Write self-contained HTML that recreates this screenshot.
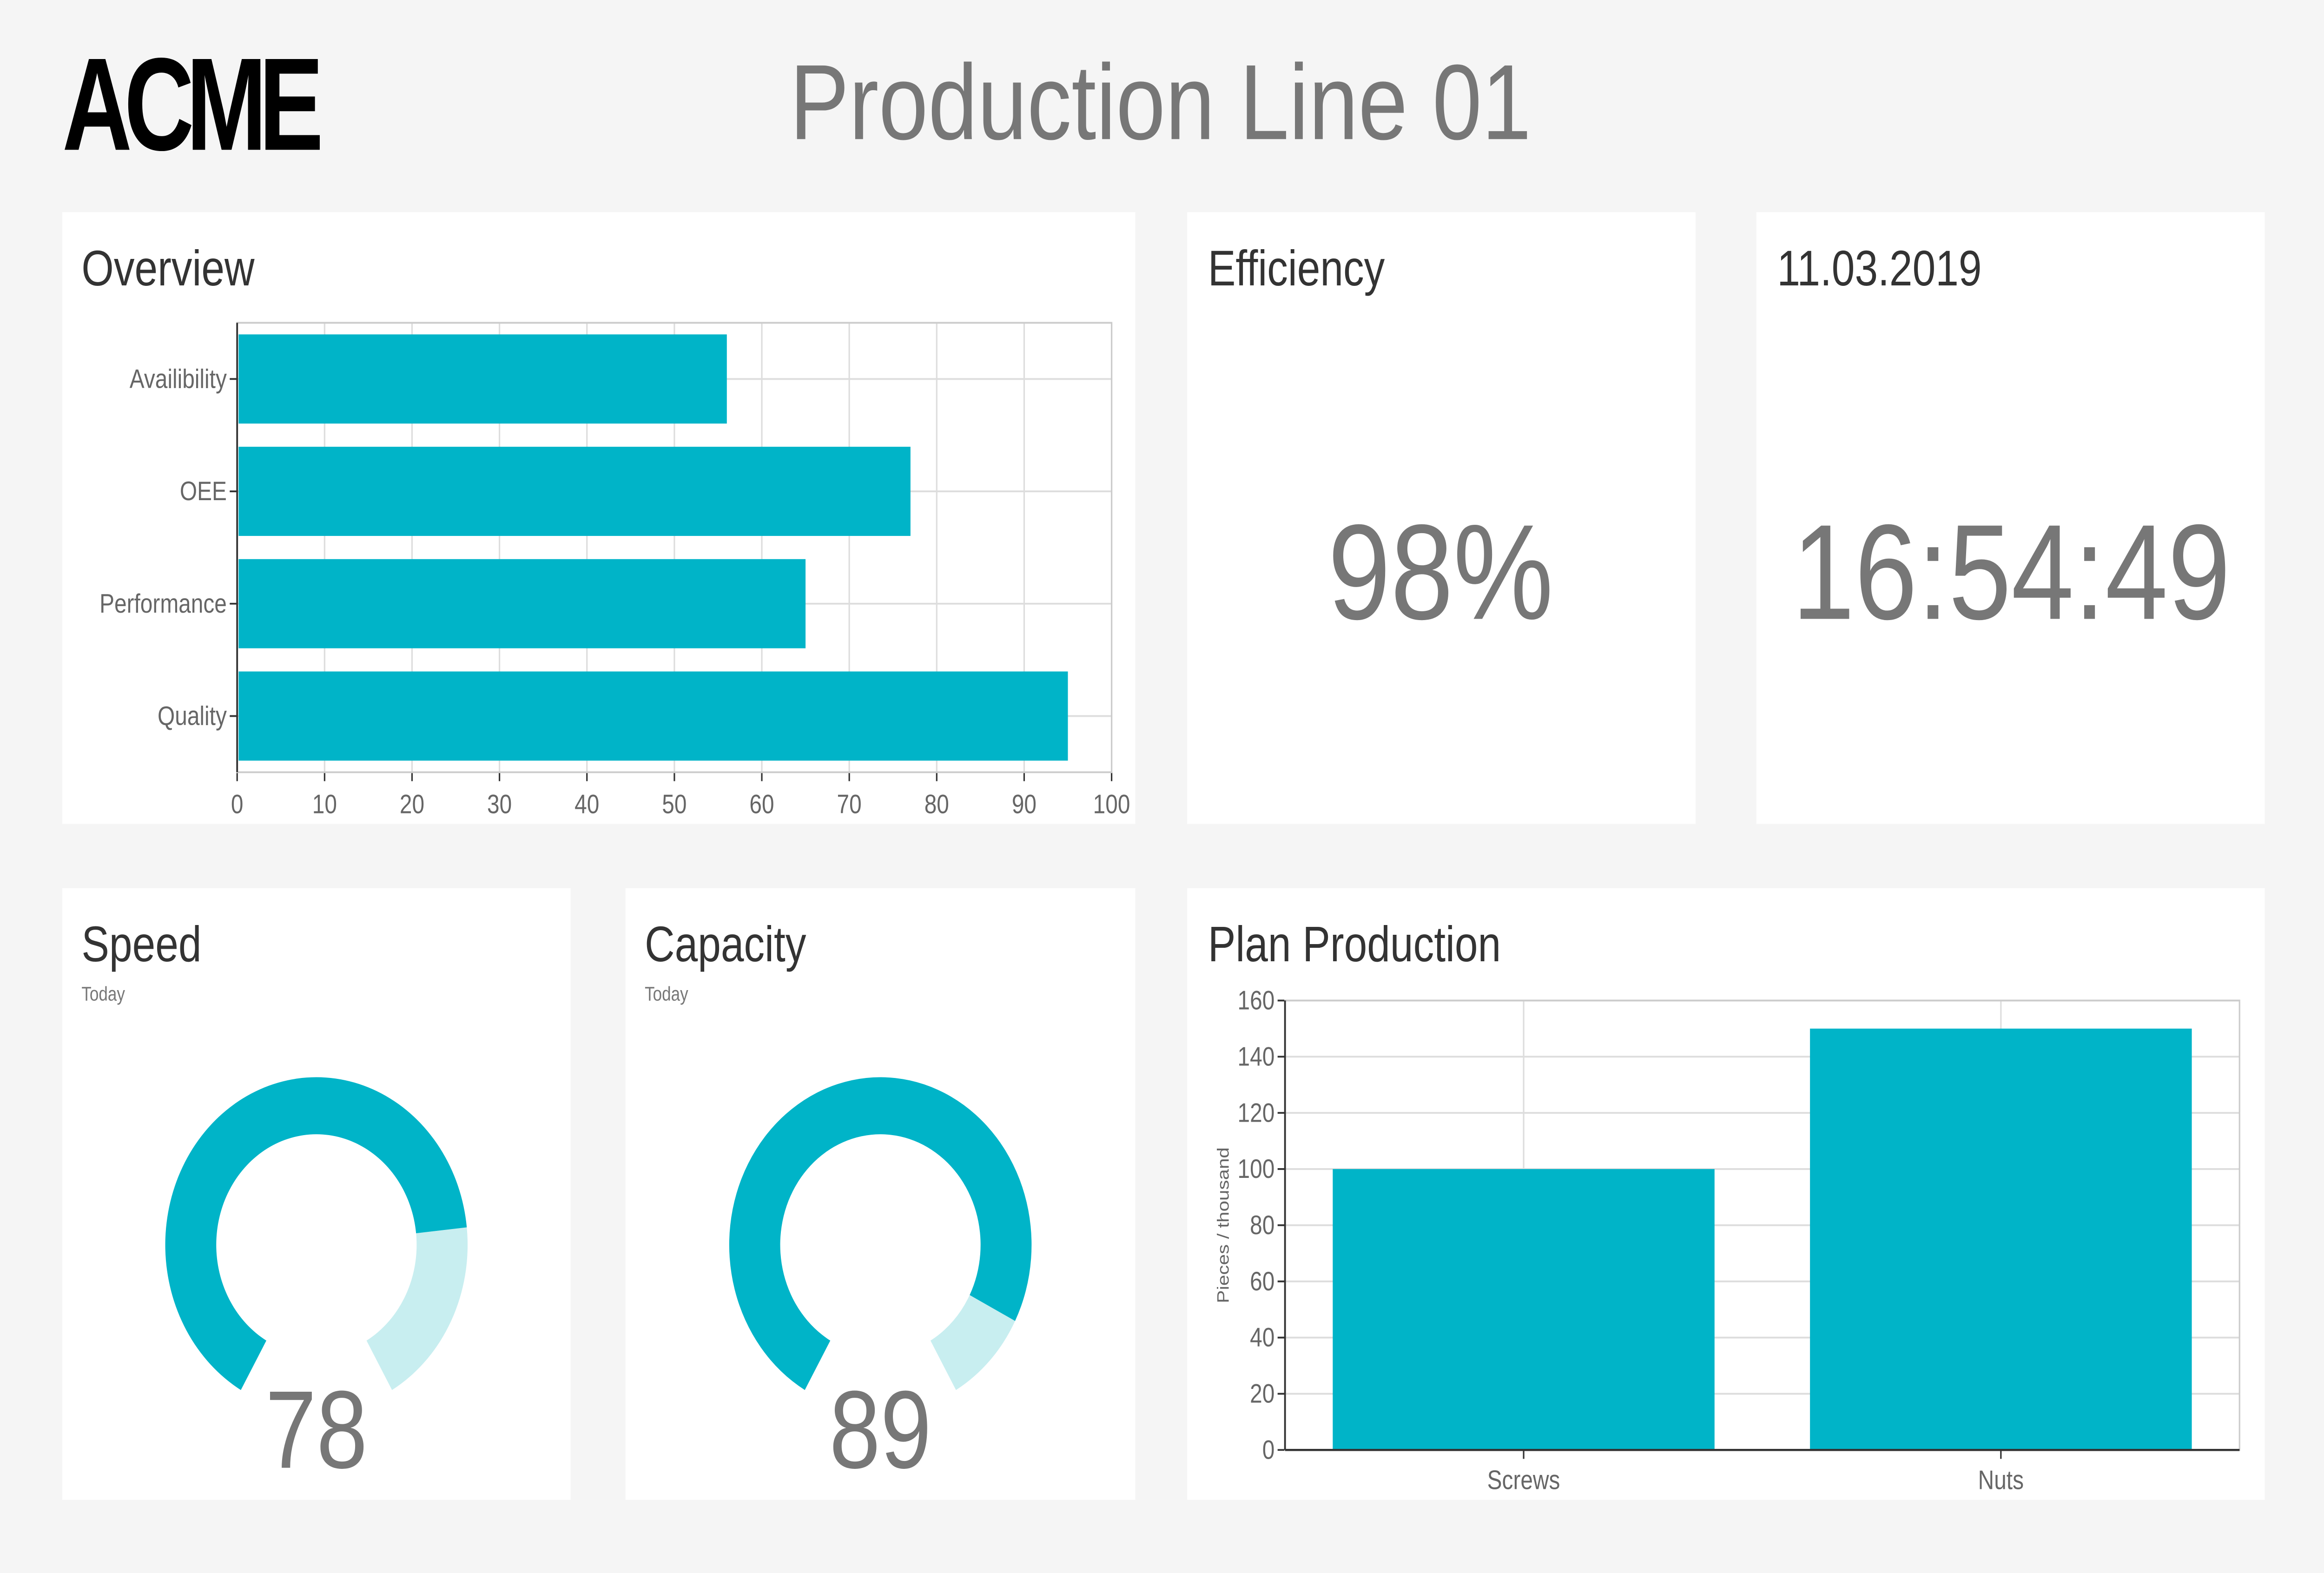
<!DOCTYPE html>
<html><head><meta charset="utf-8"><style>
html,body{margin:0;padding:0;background:#f5f5f5;width:100vw;height:100vh;overflow:hidden;}
svg{display:block;width:100vw;height:100vh;font-family:"Liberation Sans",sans-serif;}
</style></head><body>
<svg id="svg" viewBox="0 0 1568 882" preserveAspectRatio="none">
<rect x="0" y="0" width="1568" height="882" fill="#f5f5f5"/>
<g>
<text x="42" y="84" font-size="74" font-weight="bold" fill="#000" textLength="171" lengthAdjust="spacingAndGlyphs" style="letter-spacing:-6px">ACME</text>
</g>
<text x="783" y="78" text-anchor="middle" font-size="60" fill="#777">Production Line 01</text>

<rect x="42" y="119" width="724" height="343" fill="#fff"/>
<rect x="801" y="119" width="343" height="343" fill="#fff"/>
<rect x="1185" y="119" width="343" height="343" fill="#fff"/>
<rect x="42" y="498" width="343" height="343" fill="#fff"/>
<rect x="422" y="498" width="344" height="343" fill="#fff"/>
<rect x="801" y="498" width="727" height="343" fill="#fff"/>

<text x="55" y="160" font-size="28" fill="#333">Overview</text>
<text x="815" y="160" font-size="28" fill="#333">Efficiency</text>
<text x="1199" y="160" font-size="28" fill="#333">11.03.2019</text>
<text x="55" y="539" font-size="28" fill="#333">Speed</text>
<text x="55" y="561" font-size="11" fill="#777">Today</text>
<text x="435" y="539" font-size="28" fill="#333">Capacity</text>
<text x="435" y="561" font-size="11" fill="#777">Today</text>
<text x="815" y="539" font-size="28" fill="#333">Plan Production</text>

<text x="972" y="347" text-anchor="middle" font-size="76" fill="#777">98%</text>
<text x="1357" y="347" text-anchor="middle" font-size="76" fill="#777">16:54:49</text>

<g id="overview"></g>
<g id="plan"></g>
<g id="gauges"></g>
</svg>
<script>
const NS="http://www.w3.org/2000/svg";
const ovCategories=["Availibility","OEE","Performance","Quality"];
const ovValues=[56,77,65,95];
const ovTicks=[0,10,20,30,40,50,60,70,80,90,100];
const planCategories=["Screws","Nuts"];
const planValues=[100,150];
const planTicks=[0,20,40,60,80,100,120,140,160];
const gaugeNames=["speed","capacity"];
const gaugeValues=[78,89];

function mk(p,tag,attrs,txt){const e=document.createElementNS(NS,tag);for(const k in attrs)e.setAttribute(k,attrs[k]);if(txt!==undefined)e.textContent=txt;p.appendChild(e);return e;}
const TEAL="#00b4c8";

(function(){
 const g=document.getElementById('overview');
 const x0=160,x1=750,y0=181,y1=433;
 const xs=v=>x0+(v/100)*(x1-x0);
 const band=(y1-y0)/ovCategories.length;
 ovTicks.forEach(t=>{
  const l=mk(g,'line',{x1:xs(t),x2:xs(t),y1:y0,y2:y1,stroke:'#ddd','stroke-width':1});
  
  
  const tk=mk(g,'line',{x1:xs(t),x2:xs(t),y1:y1,y2:y1+5,stroke:'#333'});
  
  
  const tx=mk(g,'text',{x:xs(t),y:y1+23,'text-anchor':'middle','font-size':15,fill:'#666'},String(t));
  
  
 });
 ovCategories.forEach((c,i)=>{
  const yc=y0+band*(i+0.5);
  const gl=mk(g,'line',{x1:x0,x2:x1,y1:yc,y2:yc,stroke:'#ddd'});
  
  
 });
 mk(g,'rect',{x:x0,y:y0,width:x1-x0,height:y1-y0,fill:'none',stroke:'#ccc'});
 ovCategories.forEach((c,i)=>{
  const yc=y0+band*(i+0.5);
  const b=mk(g,'rect',{x:x0+1,y:yc-25,width:xs(ovValues[i])-x0-1,height:50,fill:TEAL});
  
  
  const tk=mk(g,'line',{x1:x0-5,x2:x0,y1:yc,y2:yc,stroke:'#333'});
  
  
  const t=mk(g,'text',{x:x0-7,y:yc+5,'text-anchor':'end','font-size':15,fill:'#666'},c);
  
  
 });
 const ax=mk(g,'line',{x1:x0,x2:x0,y1:y0,y2:y1,stroke:'#333','stroke-width':1.2});
 
 
})();

(function(){
 const g=document.getElementById('plan');
 const x0=867,x1=1511,y0=561,y1=813,max=160;
 const ys=v=>y1-(v/max)*(y1-y0);
 const band=(x1-x0)/planCategories.length;
 planTicks.forEach(t=>{
  const l=mk(g,'line',{x1:x0,x2:x1,y1:ys(t),y2:ys(t),stroke:'#ddd'});
  
  
  const tk=mk(g,'line',{x1:x0-5,x2:x0,y1:ys(t),y2:ys(t),stroke:'#333'});
  
  
  const tx=mk(g,'text',{x:x0-7,y:ys(t)+5,'text-anchor':'end','font-size':15,fill:'#666'},String(t));
  
  
 });
 planCategories.forEach((c,i)=>{
  const xc=x0+band*(i+0.5);
  const gl=mk(g,'line',{x1:xc,x2:xc,y1:y0,y2:y1,stroke:'#ddd'});
  
  
 });
 mk(g,'rect',{x:x0,y:y0,width:x1-x0,height:y1-y0,fill:'none',stroke:'#ccc'});
 planCategories.forEach((c,i)=>{
  const xc=x0+band*(i+0.5);
  const bw=band*0.8;
  const b=mk(g,'rect',{x:xc-bw/2,y:ys(planValues[i]),width:bw,height:y1-ys(planValues[i]),fill:TEAL});
  
  
  const tk=mk(g,'line',{x1:xc,x2:xc,y1:y1,y2:y1+5,stroke:'#333'});
  
  
  const t=mk(g,'text',{x:xc,y:y1+22,'text-anchor':'middle','font-size':15,fill:'#666'},c);
  
  
 });
 const ax=mk(g,'line',{x1:x0,x2:x0,y1:y0,y2:y1,stroke:'#333','stroke-width':1.2});
 
 
 const bx=mk(g,'line',{x1:x0,x2:x1,y1:y1,y2:y1,stroke:'#333','stroke-width':1.2});
 
 
 const yl=mk(g,'text',{x:0,y:0,'text-anchor':'middle','font-size':11,fill:'#666',transform:'translate(829,687) rotate(-90)'},'Pieces / thousand');
 
 
})();

(function(){
 const g=document.getElementById('gauges');
 const centers=[213.5,594];
 const cy=698, rx=102, ry=94, irx=67.6, iry=62;
 const start=210, span=300;
 function pt(a,Rx,Ry,cx){const r=a*Math.PI/180;return [cx+Rx*Math.sin(r),cy-Ry*Math.cos(r)];}
 function sector(a0,a1,cx){
  const p1=pt(a0,rx,ry,cx),p2=pt(a1,rx,ry,cx),p3=pt(a1,irx,iry,cx),p4=pt(a0,irx,iry,cx);
  const large=(a1-a0)>180?1:0;
  return `M${p1} A${rx} ${ry} 0 ${large} 1 ${p2} L${p3} A${irx} ${iry} 0 ${large} 0 ${p4} Z`;
 }
 gaugeNames.forEach((n,i)=>{
  const cx=centers[i];
  const aEnd=start+span*gaugeValues[i]/100;
  const bg=mk(g,'path',{d:sector(aEnd,start+span,cx),fill:'#c8eef0'});
  
  
  const fg=mk(g,'path',{d:sector(start,aEnd,cx),fill:TEAL});
  
  
  const t=mk(g,'text',{x:cx,y:823,'text-anchor':'middle','font-size':62,fill:'#777'},String(gaugeValues[i]));
  
  
 });
})();
</script>
</body></html>
